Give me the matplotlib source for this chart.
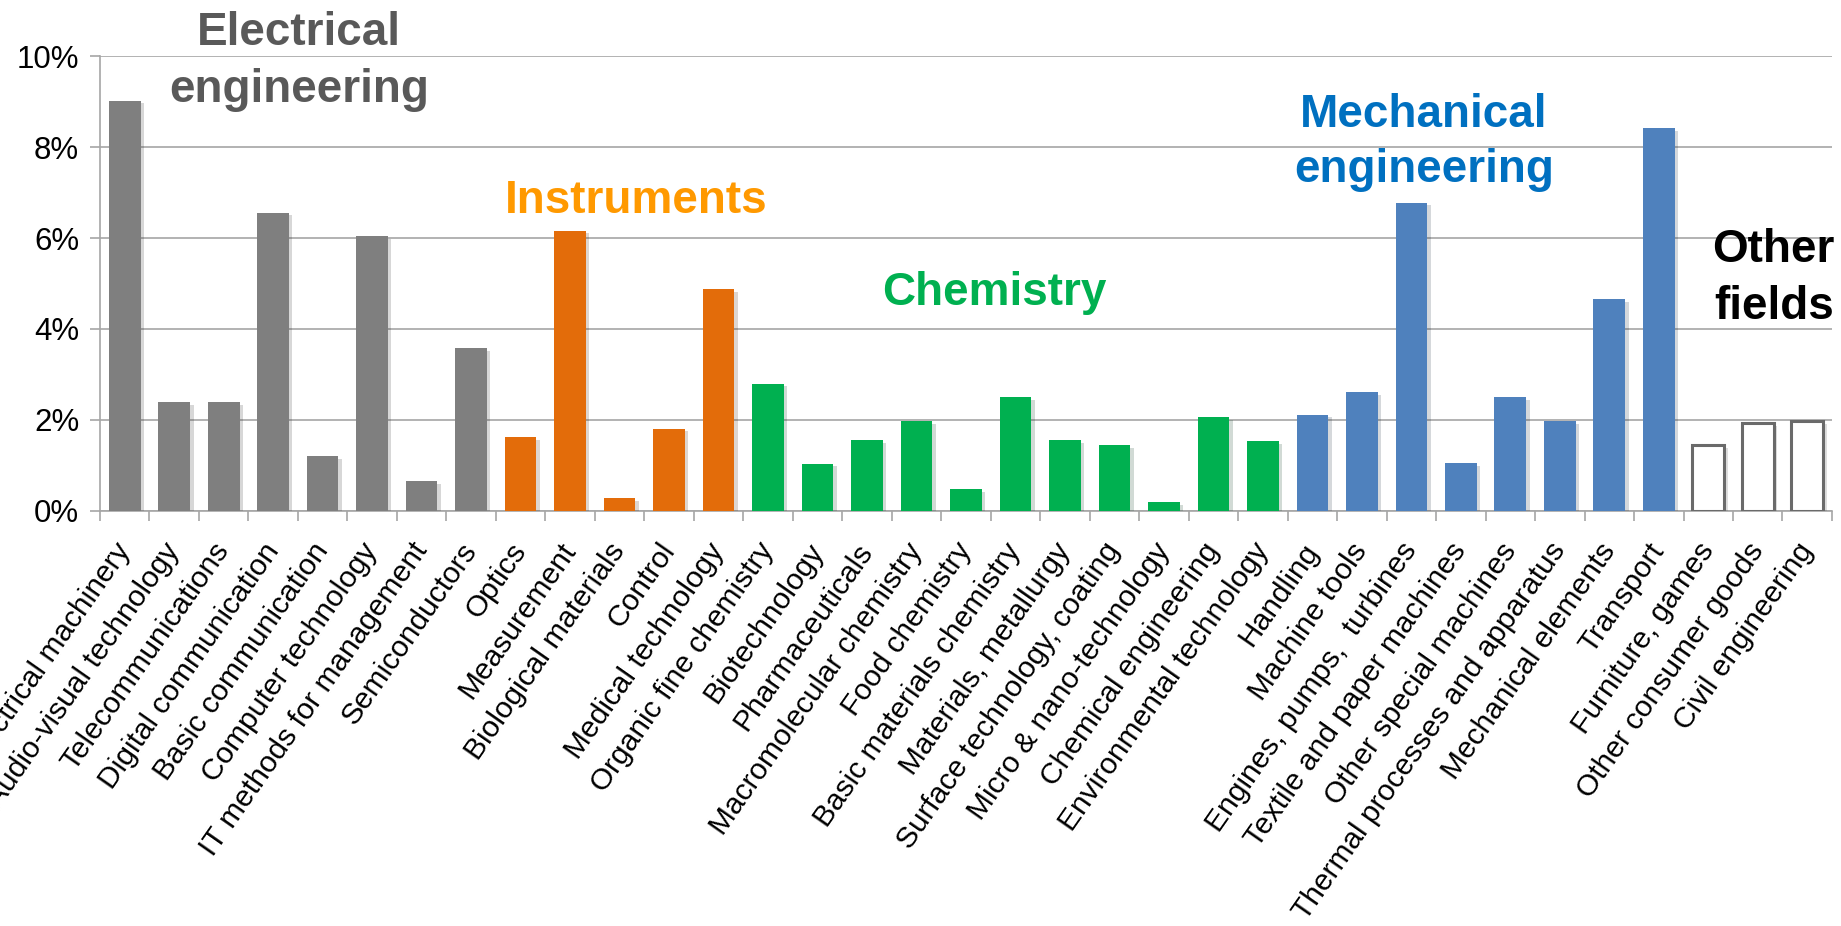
import matplotlib
matplotlib.use("Agg")
import matplotlib.pyplot as plt
import matplotlib.patheffects as pe
from matplotlib.ticker import FixedLocator, PercentFormatter

# Share of patent filings per technology field (%)
electrical = ["Electrical machinery", "Audio-visual technology",
              "Telecommunications", "Digital communication",
              "Basic communication", "Computer technology",
              "IT methods for management", "Semiconductors"]
electrical_vals = [9.02, 2.40, 2.40, 6.56, 1.20, 6.04, 0.66, 3.58]

instruments = ["Optics", "Measurement", "Biological materials", "Control",
               "Medical technology"]
instruments_vals = [1.63, 6.16, 0.29, 1.81, 4.88]

chemistry = ["Organic fine chemistry", "Biotechnology", "Pharmaceuticals",
             "Macromolecular chemistry", "Food chemistry",
             "Basic materials chemistry", "Materials, metallurgy",
             "Surface technology, coating", "Micro & nano-technology",
             "Chemical engineering", "Environmental technology"]
chemistry_vals = [2.80, 1.04, 1.56, 1.98, 0.48, 2.50, 1.56, 1.44, 0.20,
                  2.06, 1.53]

mechanical = ["Handling", "Machine tools", "Engines, pumps,  turbines",
              "Textile and paper machines", "Other special machines",
              "Thermal processes and apparatus", "Mechanical elements",
              "Transport"]
mechanical_vals = [2.12, 2.61, 6.78, 1.06, 2.50, 1.98, 4.66, 8.42]

other = ["Furniture, games", "Other consumer goods", "Civil engineering"]
other_vals = [1.45, 1.93, 1.97]

groups = [
    (electrical, electrical_vals, "#7F7F7F", None),
    (instruments, instruments_vals, "#E36C0A", None),
    (chemistry, chemistry_vals, "#00B050", None),
    (mechanical, mechanical_vals, "#4F81BD", None),
    (other, other_vals, "white", "#6A6A6A"),
]

plt.rcParams['font.family'] = ['Liberation Sans', 'DejaVu Sans']
fig = plt.figure(figsize=(18.41, 9.26), dpi=100)
ax = fig.add_axes([0.0543, 0.4482, 0.9408, 0.4913])

shadow = [pe.SimplePatchShadow(offset=(2.5, -2), alpha=0.18), pe.Normal()]
labels = []
pos = 0
for names, vals, color, edge in groups:
    xs = list(range(pos, pos + len(names)))
    if edge:
        bars = ax.bar(xs, vals, width=0.64, color=color, edgecolor=edge,
                      linewidth=2.2, zorder=3)
    else:
        bars = ax.bar(xs, vals, width=0.64, color=color, zorder=3)
    for b in bars:
        b.set_path_effects(shadow)
    labels += names
    pos += len(names)

n = len(labels)
ax.set_xlim(-0.5, n - 0.5)
ax.set_ylim(0, 10)
ax.yaxis.set_major_locator(FixedLocator([0, 2, 4, 6, 8, 10]))
ax.yaxis.set_major_formatter(PercentFormatter(decimals=0))
ax.yaxis.grid(True, color="#A6A6A6", linewidth=1.2, zorder=0)
ax.set_axisbelow(True)

ax.set_xticks(range(n))
ax.set_xticklabels(labels, rotation=55, ha='right', va='center',
                   rotation_mode='anchor', fontsize=21.5)
ax.set_xticks([i - 0.5 for i in range(n + 1)], minor=True)
ax.tick_params(axis='x', which='major', length=0, pad=25)
ax.tick_params(axis='x', which='minor', length=7, width=1.2,
               color="#A6A6A6")
ax.tick_params(axis='y', length=7, width=1.2, color="#A6A6A6",
               labelsize=22.5, pad=8)

for side in ('top', 'right'):
    ax.spines[side].set_visible(False)
for side in ('left', 'bottom'):
    ax.spines[side].set_color("#A6A6A6")
    ax.spines[side].set_linewidth(1.2)

# Field group titles
title_kw = dict(fontsize=33, fontweight='bold', ha='center', va='baseline')
ax.text(3.52, 10.25, "Electrical", color="#595959", **title_kw)
ax.text(3.52, 9.0, "engineering", color="#595959", **title_kw)
ax.text(10.33, 6.55, "Instruments", color="#FF9900", **title_kw)
ax.text(17.57, 4.53, "Chemistry", color="#00B050", **title_kw)
ax.text(26.25, 8.45, "Mechanical", color="#0070C0", **title_kw)
ax.text(26.25, 7.22, "engineering", color="#0070C0", **title_kw)
ax.text(34.55, 5.48, "Other", color="black", fontsize=33,
        fontweight='bold', ha='right', va='baseline')
ax.text(34.55, 4.23, "fields", color="black", fontsize=33,
        fontweight='bold', ha='right', va='baseline')

plt.savefig("out.png", dpi=100)
